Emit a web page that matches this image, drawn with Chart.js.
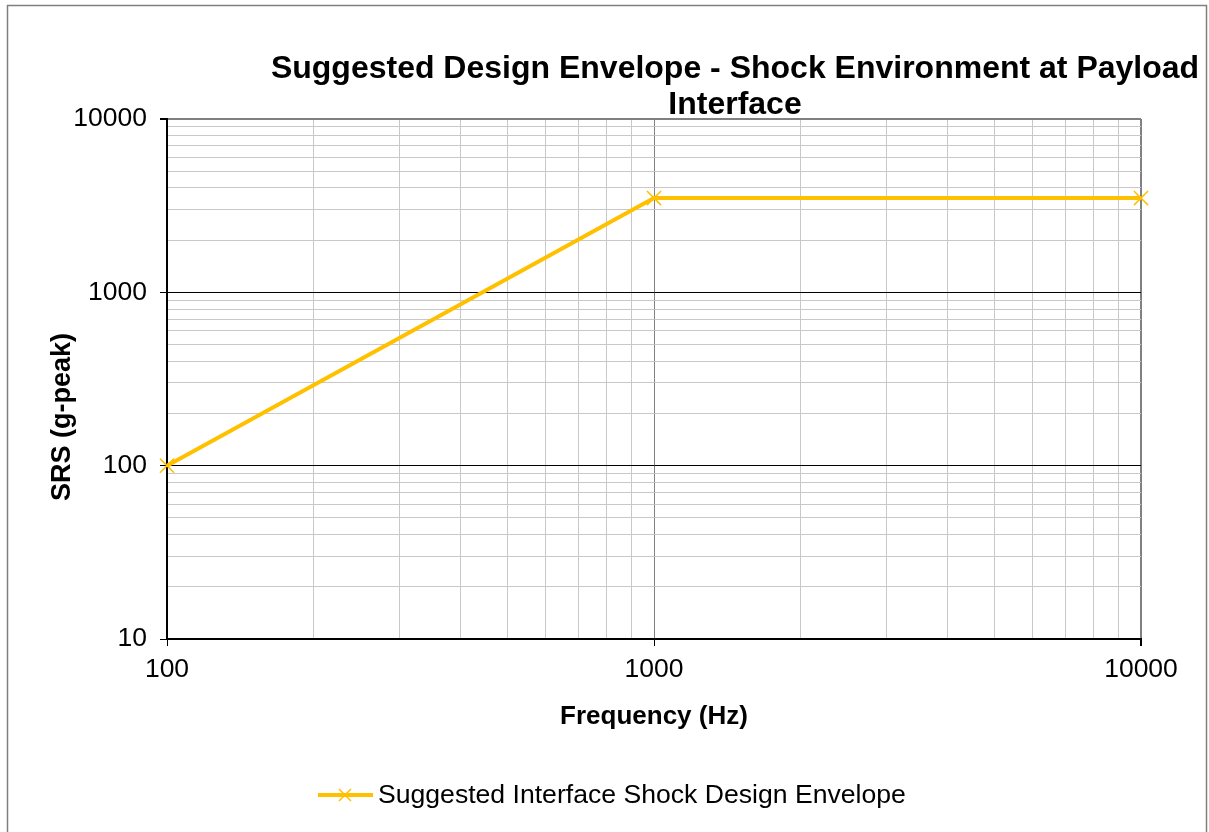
<!DOCTYPE html>
<html>
<head>
<meta charset="utf-8">
<script src="https://cdn.jsdelivr.net/npm/chart.js@4/dist/chart.umd.min.js"></script>
<style>
  body { margin: 0; background: #fff; }
  canvas { display: block; }
</style>
</head>
<body>
<canvas id="srsChart" width="1209" height="832"></canvas>
<script>
const frequencies = [100, 1000, 10000];
const srsValues = [100, 3500, 3500];
const seriesLabel = 'Suggested Interface Shock Design Envelope';
const chartTitle = ['Suggested Design Envelope - Shock Environment at Payload', 'Interface'];
const xTitle = 'Frequency (Hz)';
const yTitle = 'SRS (g-peak)';
const xTickValues = [100, 200, 300, 400, 500, 600, 700, 800, 900, 1000,
    2000, 3000, 4000, 5000, 6000, 7000, 8000, 9000, 10000];
const yTickValues = [10, 20, 30, 40, 50, 60, 70, 80, 90, 100,
    200, 300, 400, 500, 600, 700, 800, 900, 1000,
    2000, 3000, 4000, 5000, 6000, 7000, 8000, 9000, 10000];

const FONT = "'Liberation Sans', Arial, sans-serif";
const LINE_COLOR = '#FFC000';

function isDecade(v) {
    const l = Math.log10(v);
    return Math.abs(l - Math.round(l)) < 1e-9;
}

// cadre, titre, titre vertical et légende
const decorPlugin = {
    id: 'decor',
    afterDraw(chart) {
        const ctx = chart.ctx;
        ctx.save();
        ctx.strokeStyle = '#7f7f7f';
        ctx.lineWidth = 1.5;
        ctx.strokeRect(7.5, 5.5, 1199, 900);

        ctx.fillStyle = '#000';
        ctx.textAlign = 'center';
        ctx.textBaseline = 'middle';
        ctx.font = 'bold 32px ' + FONT;
        ctx.fillText(chartTitle[0], 735, 69);
        ctx.fillText(chartTitle[1], 735, 105);

        ctx.save();
        ctx.translate(63, 417);
        ctx.rotate(-Math.PI / 2);
        ctx.font = 'bold 27px ' + FONT;
        ctx.fillText(yTitle, 0, 0);
        ctx.restore();

        // légende
        ctx.strokeStyle = LINE_COLOR;
        ctx.lineWidth = 4;
        ctx.beginPath();
        ctx.moveTo(318, 795);
        ctx.lineTo(373, 795);
        ctx.stroke();
        ctx.lineWidth = 1.5;
        ctx.beginPath();
        ctx.moveTo(339, 789); ctx.lineTo(351, 801);
        ctx.moveTo(351, 789); ctx.lineTo(339, 801);
        ctx.stroke();
        ctx.textAlign = 'left';
        ctx.font = '26.6px ' + FONT;
        ctx.fillText(seriesLabel, 378, 796);
        ctx.restore();
    }
};

const ctx = document.getElementById('srsChart').getContext('2d');
new Chart(ctx, {
    type: 'line',
    data: {
        datasets: [{
            label: seriesLabel,
            data: frequencies.map((f, i) => ({ x: f, y: srsValues[i] })),
            borderColor: LINE_COLOR,
            backgroundColor: LINE_COLOR,
            borderWidth: 4,
            fill: false,
            tension: 0,
            pointStyle: 'crossRot',
            pointRadius: 10,
            pointBorderWidth: 1.5,
            pointBorderColor: LINE_COLOR,
            clip: false
        }]
    },
    plugins: [decorPlugin],
    options: {
        responsive: false,
        animation: false,
        devicePixelRatio: 1,
        layout: { padding: { left: 0, top: 119, right: 68, bottom: 93 } },
        plugins: {
            legend: { display: false },
            title: { display: false },
            tooltip: { enabled: false }
        },
        scales: {
            x: {
                type: 'logarithmic',
                min: 100,
                max: 10000,
                afterBuildTicks: scale => { scale.ticks = xTickValues.map(v => ({ value: v })); },
                afterFit: scale => { scale.height = 100; },
                ticks: {
                    autoSkip: false,
                    maxRotation: 0,
                    padding: 8,
                    color: '#000',
                    font: { family: FONT, size: 26.5 },
                    callback: value => isDecade(value) ? String(value) : ''
                },
                grid: {
                    color: c => (c.tick && (c.tick.value === 1000 || c.tick.value === 10000)) ? '#808080' : '#c8c8c8',
                    lineWidth: c => (c.tick && c.tick.value === 10000) ? 2 : 1,
                    tickLength: 7,
                    tickColor: c => (c.tick && isDecade(c.tick.value)) ? '#000' : 'rgba(0,0,0,0)'
                },
                border: { color: '#000', width: 2 },
                title: {
                    display: true,
                    text: xTitle,
                    color: '#000',
                    font: { family: FONT, size: 26, weight: 'bold' },
                    padding: { top: 0, bottom: 7 }
                }
            },
            y: {
                type: 'logarithmic',
                min: 10,
                max: 10000,
                afterBuildTicks: scale => { scale.ticks = yTickValues.map(v => ({ value: v })); },
                afterFit: scale => { scale.width = 167; },
                ticks: {
                    autoSkip: false,
                    padding: 13,
                    color: '#000',
                    font: { family: FONT, size: 26.5 },
                    callback: value => isDecade(value) ? String(value) : ''
                },
                grid: {
                    color: c => {
                        const v = c.tick && c.tick.value;
                        if (v === 10000) return '#808080';
                        return isDecade(v) ? '#000' : '#c8c8c8';
                    },
                    lineWidth: c => (c.tick && c.tick.value === 10000) ? 2 : 1,
                    tickLength: 7,
                    tickColor: c => (c.tick && isDecade(c.tick.value)) ? '#000' : 'rgba(0,0,0,0)'
                },
                border: { color: '#000', width: 2 }
            }
        }
    }
});
</script>
</body>
</html>
